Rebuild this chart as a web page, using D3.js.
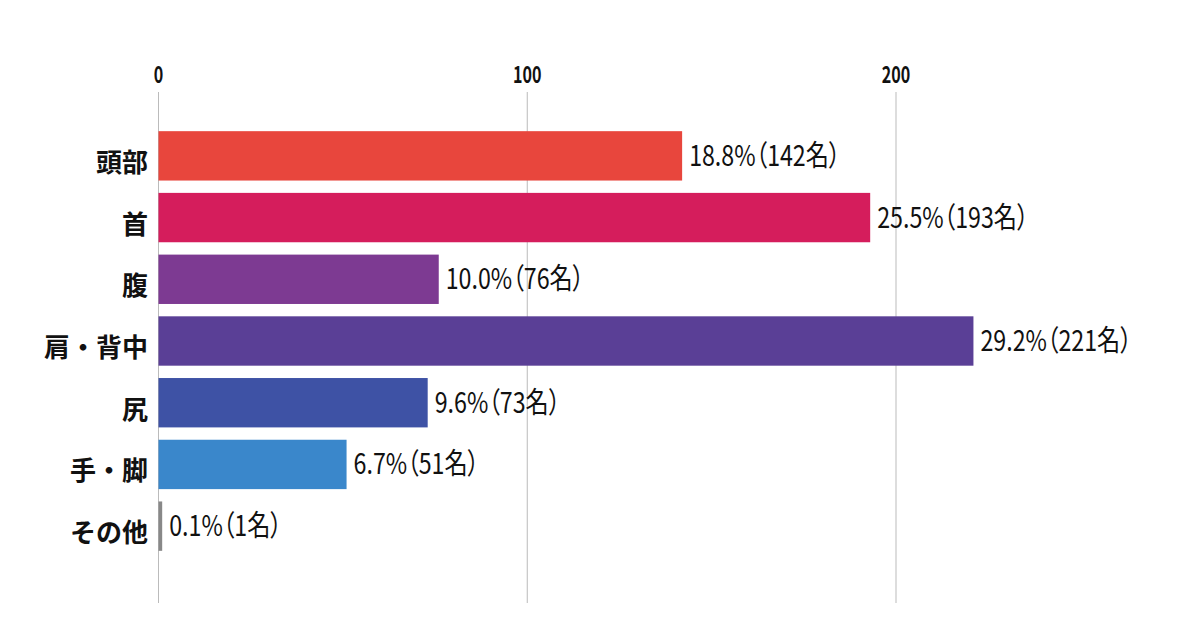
<!DOCTYPE html>
<html>
<head>
<meta charset="utf-8">
<script src="https://cdn.jsdelivr.net/npm/d3@7"></script>
<style>
  body { margin: 0; background: #fff; }
  .tick-label { font-family: "Noto Sans CJK JP", sans-serif; font-weight: bold; font-size: 23px; fill: #111; }
  .cat-label { font-family: "Noto Sans CJK JP", sans-serif; font-weight: bold; font-size: 26px; fill: #111; }
  .val-label { font-family: "Noto Sans CJK JP", sans-serif; font-weight: 400; font-size: 29px; fill: #111; font-feature-settings: "palt" 1; }
</style>
</head>
<body>
<svg id="chart" width="1200" height="644"></svg>
<script>
// data
const categories = ["頭部", "首", "腹", "肩・背中", "尻", "手・脚", "その他"];
const counts = [142, 193, 76, 221, 73, 51, 1];
const percents = ["18.8", "25.5", "10.0", "29.2", "9.6", "6.7", "0.1"];
const barColors = ["#e8463d", "#d51d5c", "#7d3a92", "#5a3f96", "#3e52a5", "#3a87cb", "#888888"];
const tickValues = [0, 100, 200];

const svg = d3.select("#chart");

// scales
const x = d3.scaleLinear()
    .domain([0, 200])
    .range([158.5, 896]);

const y = d3.scaleBand()
    .domain(categories)
    .range([125, 557])
    .paddingInner(0.2)
    .paddingOuter(0.1);

// grid lines + tick labels
const grid = svg.append("g");
grid.selectAll("line")
    .data(tickValues)
    .enter()
    .append("line")
    .attr("x1", (d) => x(d))
    .attr("x2", (d) => x(d))
    .attr("y1", 92)
    .attr("y2", 603)
    .attr("stroke", "#bbb")
    .attr("stroke-width", 1);

grid.selectAll("text")
    .data(tickValues)
    .enter()
    .append("text")
    .attr("class", "tick-label")
    .attr("transform", (d) => "translate(" + x(d) + ",83) scale(0.7,1)")
    .attr("text-anchor", "middle")
    .text((d) => d);

// bars
const rows = categories.map((c, i) => ({cat: c, n: counts[i], pct: percents[i], color: barColors[i]}));

svg.append("g")
    .selectAll("rect")
    .data(rows)
    .enter()
    .append("rect")
    .attr("x", x(0))
    .attr("y", (d) => y(d.cat))
    .attr("width", (d) => Math.max(x(d.n) - x(0), 3))
    .attr("height", y.bandwidth())
    .attr("fill", (d) => d.color);

// category labels
svg.append("g")
    .selectAll("text")
    .data(rows)
    .enter()
    .append("text")
    .attr("class", "cat-label")
    .attr("x", 148)
    .attr("y", (d) => y(d.cat) + y.bandwidth() / 2 + 16)
    .attr("text-anchor", "end")
    .text((d) => d.cat);

// value labels (condensed look)
svg.append("g")
    .selectAll("text")
    .data(rows)
    .enter()
    .append("text")
    .attr("class", "val-label")
    .attr("transform", (d) => "translate(" + (Math.max(x(d.n), x(0) + 3) + 7) + "," +
        (y(d.cat) + y.bandwidth() / 2 + 10) + ") scale(0.8,1)")
    .text((d) => d.pct + "%（" + d.n + "名）");
</script>
</body>
</html>
